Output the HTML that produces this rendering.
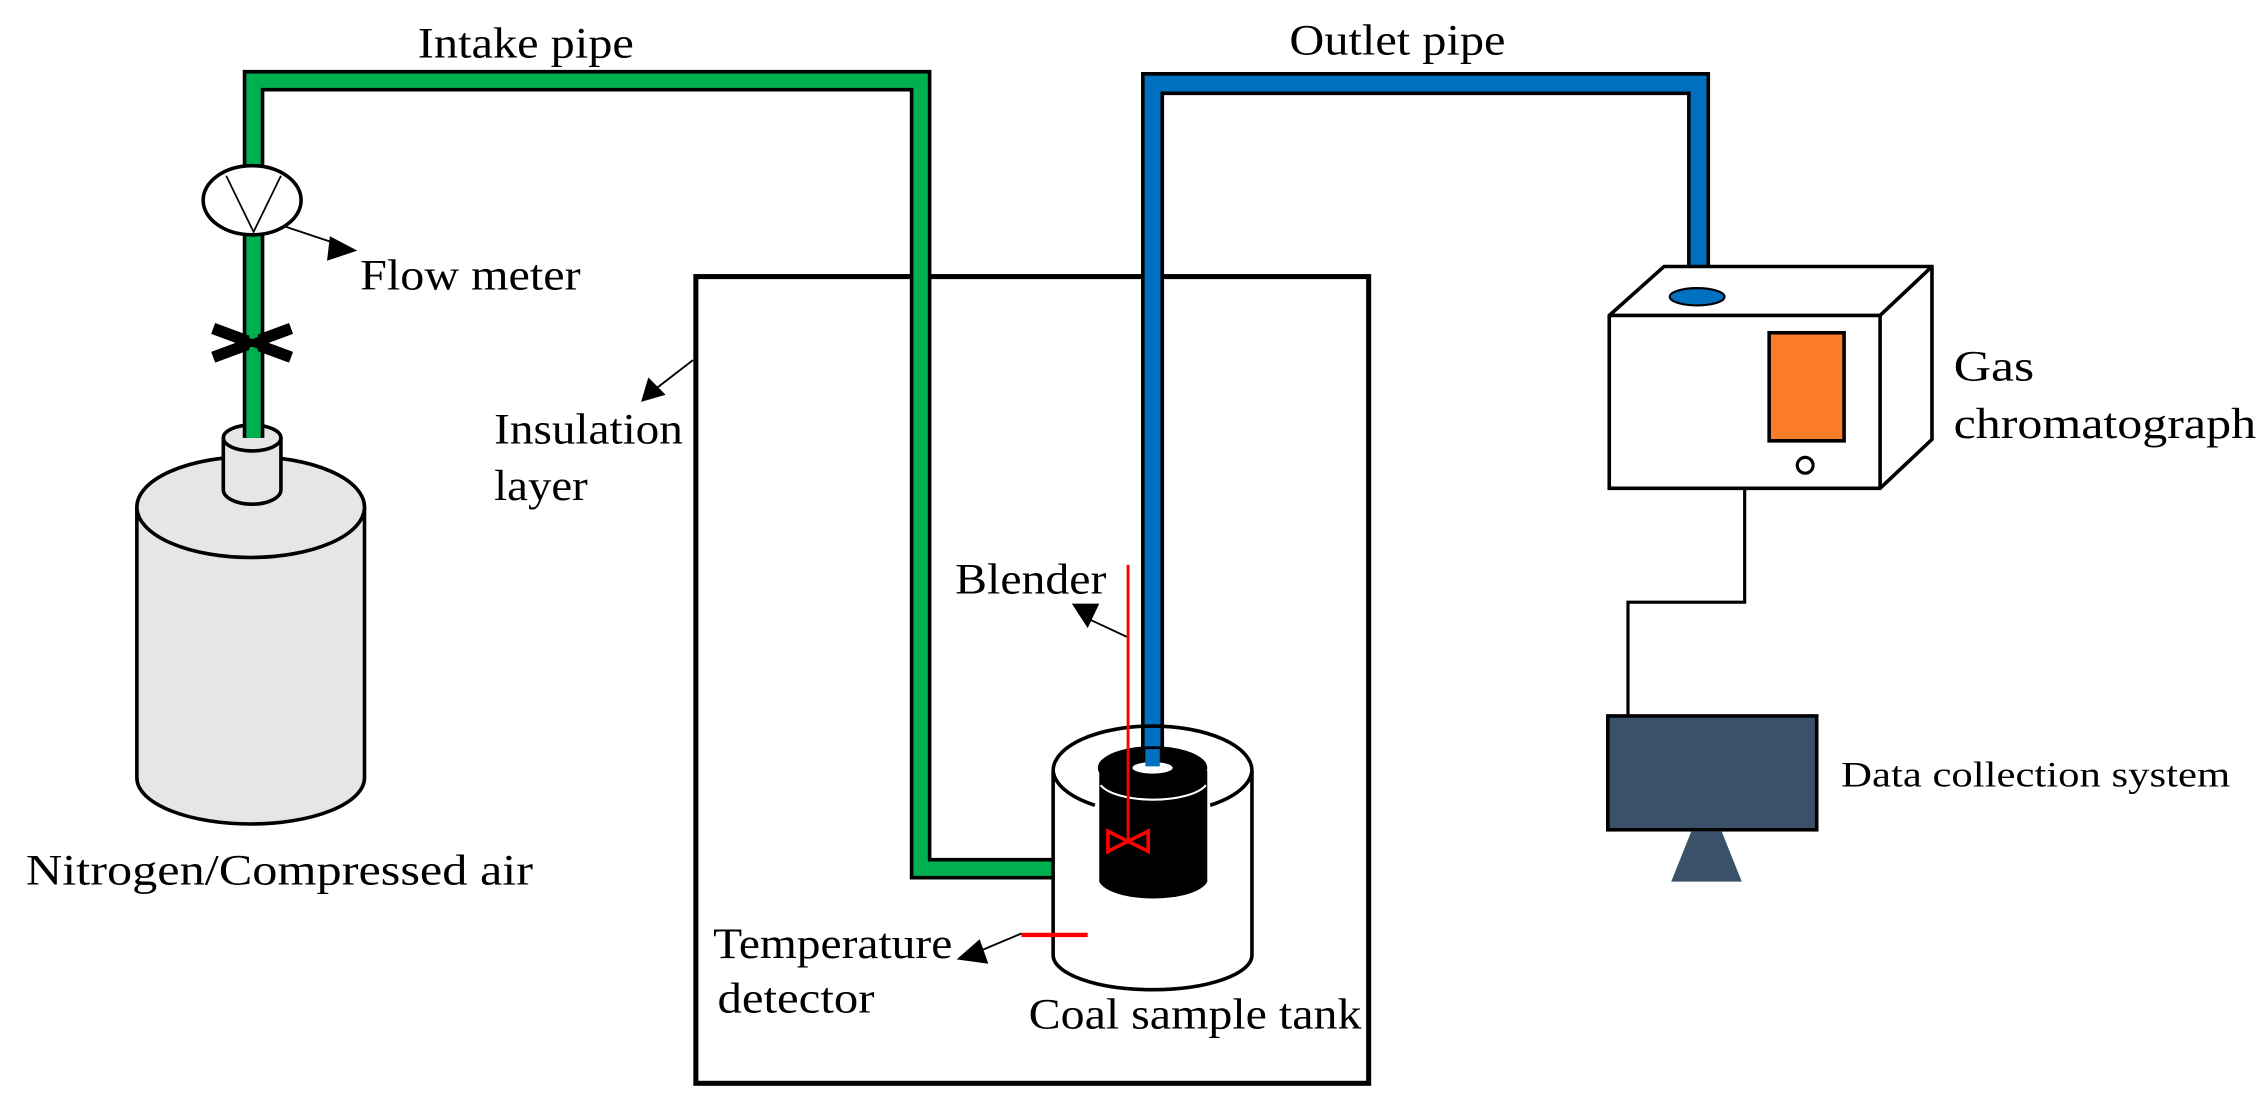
<!DOCTYPE html>
<html><head><meta charset="utf-8"><style>html,body{margin:0;padding:0;background:#fff}svg{display:block}</style></head>
<body>
<svg width="2259" height="1115" viewBox="0 0 1568 774" preserveAspectRatio="none" xmlns="http://www.w3.org/2000/svg" font-family="Liberation Serif, serif" font-size="30" fill="#000">
<rect width="1568" height="774" fill="#fff"/>
<!-- insulation box -->
<rect x="483" y="192" width="467" height="560" fill="none" stroke="#000" stroke-width="3.5"/>
<!-- N2 cylinder -->
<path d="M95 352 L95 540 A79 32 0 0 0 253 540 L253 352" fill="#e6e6e6" stroke="#000" stroke-width="2.5"/>
<ellipse cx="174" cy="352" rx="79" ry="35" fill="#e6e6e6" stroke="#000" stroke-width="2.5"/>
<path d="M155 304 L155 340 A20 10 0 0 0 195 340 L195 304" fill="#e6e6e6" stroke="#000" stroke-width="2.5"/>
<ellipse cx="175" cy="304" rx="20" ry="9" fill="#e6e6e6" stroke="#000" stroke-width="2.5"/>
<!-- intake pipe -->
<path d="M176 304 L176 56 L639 56 L639 603 L765 603" fill="none" stroke="#000" stroke-width="15"/>
<path d="M176 304 L176 56 L639 56 L639 603 L765 603" fill="none" stroke="#00b050" stroke-width="10"/>
<!-- flow meter -->
<ellipse cx="175" cy="139" rx="34" ry="24" fill="#fff" stroke="#000" stroke-width="2.5"/>
<path d="M157 122 L176 161 L195 122" fill="none" stroke="#000" stroke-width="1.2"/>
<line x1="197" y1="157" x2="236" y2="170" stroke="#000" stroke-width="1.3"/>
<polygon points="248,174 229,164 227,181" fill="#000"/>
<!-- valve -->
<line x1="148" y1="228" x2="202" y2="248" stroke="#000" stroke-width="8"/>
<line x1="148" y1="248" x2="202" y2="228" stroke="#000" stroke-width="8"/>
<line x1="176" y1="228" x2="176" y2="248" stroke="#00b050" stroke-width="6"/>
<line x1="148" y1="228" x2="202" y2="248" stroke="#000" stroke-width="5"/>
<line x1="148" y1="248" x2="202" y2="228" stroke="#000" stroke-width="5"/>
<!-- outlet pipe -->
<path d="M800 535 L800 58 L1179 58 L1179 204" fill="none" stroke="#000" stroke-width="16"/>
<path d="M800 535 L800 58 L1179 58 L1179 204" fill="none" stroke="#0070c0" stroke-width="11"/>
<!-- coal tank -->
<path d="M731 535 L731 663 A69 24 0 0 0 869 663 L869 535" fill="#fff" stroke="#000" stroke-width="2.5"/>
<path d="M731 535 A69 31 0 0 1 869 535" fill="none" stroke="#000" stroke-width="2.5"/>
<path d="M731 535 A69 31 0 0 0 760 559 M840 559 A69 31 0 0 0 869 535" fill="none" stroke="#000" stroke-width="2.5"/>
<path d="M763 535 L763 612 A38 14 0 0 0 838 612 L838 535 Z" fill="#000"/>
<ellipse cx="800" cy="533" rx="38" ry="15" fill="#000"/>
<path d="M764 545 A38 14 0 0 0 837 545" fill="none" stroke="#fff" stroke-width="1.5"/>
<ellipse cx="800" cy="533" rx="14" ry="4" fill="#fff"/>
<path d="M800 520 L800 532" stroke="#0070c0" stroke-width="10"/>
<!-- blender -->
<line x1="783" y1="392" x2="783" y2="584" stroke="#ff0000" stroke-width="2"/>
<path d="M769 577 L797 591 L797 577 L769 591 Z" fill="none" stroke="#ff0000" stroke-width="2.5"/>
<line x1="782" y1="442" x2="752" y2="428" stroke="#000" stroke-width="1.3"/>
<polygon points="744,419 763,419 755,436" fill="#000"/>
<!-- temperature -->
<line x1="709" y1="649" x2="755" y2="649" stroke="#ff0000" stroke-width="3"/>
<line x1="709" y1="648" x2="678" y2="661" stroke="#000" stroke-width="1.3"/>
<polygon points="664,666 680,652 686,669" fill="#000"/>
<!-- insulation arrow -->
<line x1="481" y1="250" x2="455" y2="270" stroke="#000" stroke-width="1.3"/>
<polygon points="445,279 450,262 462,274" fill="#000"/>
<!-- GC -->
<polygon points="1117,219 1155,185 1341,185 1341,305 1305,339 1117,339" fill="#fff" stroke="#000" stroke-width="2.5"/>
<path d="M1117 219 L1305 219 L1305 339 M1305 219 L1341 185" fill="none" stroke="#000" stroke-width="2.5"/>
<ellipse cx="1178" cy="206" rx="19" ry="6" fill="#0070c0" stroke="#000" stroke-width="1.5"/>
<rect x="1228" y="231" width="52" height="75" fill="#fb7d27" stroke="#000" stroke-width="2.5"/>
<circle cx="1253" cy="323" r="5.5" fill="#fff" stroke="#000" stroke-width="2.2"/>
<path d="M1211 339 L1211 418 L1130 418 L1130 497" fill="none" stroke="#000" stroke-width="2.2"/>
<rect x="1116" y="497" width="145" height="79" fill="#3b5169" stroke="#000" stroke-width="2.5"/>
<polygon points="1174,577 1195,577 1209,612 1160,612" fill="#3b5169"/>
<!-- labels -->
<text x="290" y="40" textLength="150" lengthAdjust="spacingAndGlyphs">Intake pipe</text>
<text x="895" y="38" textLength="150" lengthAdjust="spacingAndGlyphs">Outlet pipe</text>
<text x="250" y="201" textLength="153" lengthAdjust="spacingAndGlyphs">Flow meter</text>
<text x="343" y="308" textLength="131" lengthAdjust="spacingAndGlyphs">Insulation</text>
<text x="343" y="347" textLength="65" lengthAdjust="spacingAndGlyphs">layer</text>
<text x="18" y="614" textLength="352" lengthAdjust="spacingAndGlyphs">Nitrogen/Compressed air</text>
<text x="663" y="412" textLength="105" lengthAdjust="spacingAndGlyphs">Blender</text>
<text x="495" y="665" textLength="166" lengthAdjust="spacingAndGlyphs">Temperature</text>
<text x="498" y="703" textLength="109" lengthAdjust="spacingAndGlyphs">detector</text>
<text x="714" y="714" textLength="231" lengthAdjust="spacingAndGlyphs">Coal sample tank</text>
<text x="1356" y="264" textLength="56" lengthAdjust="spacingAndGlyphs">Gas</text>
<text x="1356" y="304" textLength="210" lengthAdjust="spacingAndGlyphs">chromatograph</text>
<text x="1278" y="546" font-size="25" textLength="270" lengthAdjust="spacingAndGlyphs">Data collection system</text>
</svg>
</body></html>
